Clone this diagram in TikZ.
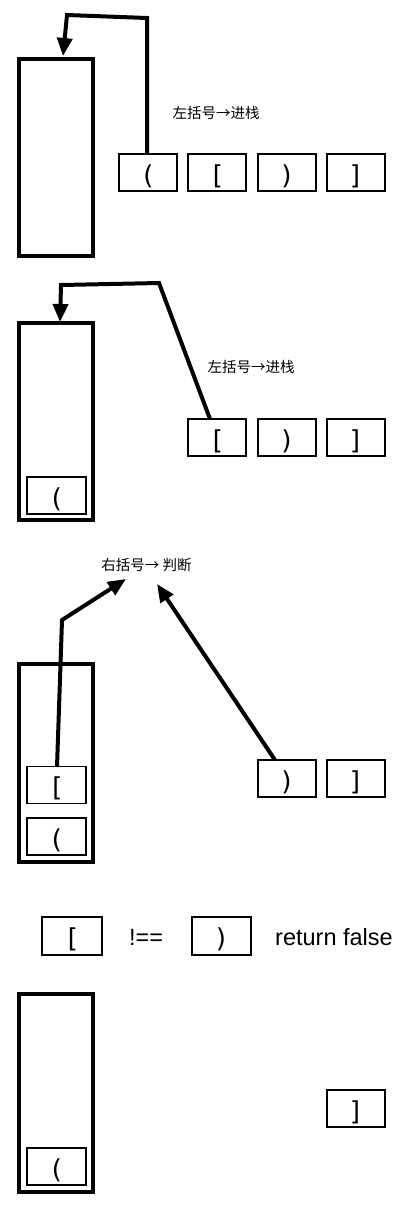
\documentclass[tikz,border=0pt]{standalone}
\usepackage{fontspec}
\setmainfont{Liberation Sans}
\newfontfamily\cjk{Noto Sans CJK SC}
\newfontfamily\monof{DejaVu Sans Mono}
\usetikzlibrary{arrows.meta}
\tikzset{
  px/.style={x=1pt,y=-1pt},
  stackbox/.style={draw,line width=4pt,minimum width=74pt,minimum height=197pt,inner sep=0pt},
  cellbox/.style={draw,line width=1.2pt,minimum width=58pt,minimum height=37pt,inner sep=0pt,
    font=\monof\fontsize{26}{26}\selectfont,text depth=0pt,anchor=center},
  flow/.style={line width=4pt,line join=miter,-{Triangle[length=18pt,width=15pt]}},
  cnlabel/.style={font=\cjk\fontsize{14.5}{14.5}\selectfont,inner sep=0pt},
  entext/.style={font=\fontsize{23.5}{23.5}\selectfont,inner sep=0pt}
}
\newcommand{\cellt}[1]{\raisebox{-4pt}{#1}}
\begin{document}
\begin{tikzpicture}[px]
\useasboundingbox (0,0) rectangle (411,1208);
% ---------- panel 1 ----------
\node[stackbox] (s1) at (56,157.5) {};
\node[cellbox] (p1a) at (148,172.5) {\cellt{(}};
\node[cellbox] (p1b) at (217,172.5) {\cellt{[}};
\node[cellbox] (p1c) at (287,172.5) {\cellt{)}};
\node[cellbox] (p1d) at (356,172.5) {\cellt{]}};
\node[cnlabel] (l1) at (216,113) {左括号→进栈};
\coordinate (a1s) at (147,154);
\coordinate (a1b) at (147,18);
\coordinate (a1c) at (67,15);
\coordinate (a1e) at (63,56);
\draw[flow] (a1s) -- (a1b) -- (a1c) -- (a1e);
% ---------- panel 2 ----------
\node[stackbox] (s2) at (56,421.5) {};
\node[cellbox,minimum width=59pt] (q2a) at (56.5,495.5) {\cellt{(}};
\node[cellbox] (p2b) at (217,437.5) {\cellt{[}};
\node[cellbox] (p2c) at (287,437.5) {\cellt{)}};
\node[cellbox] (p2d) at (356,437.5) {\cellt{]}};
\node[cnlabel] (l2) at (251,367) {左括号→进栈};
\coordinate (a2s) at (210,419);
\coordinate (a2b) at (159,283);
\coordinate (a2c) at (61,285);
\coordinate (a2e) at (60,322);
\draw[flow] (a2s) -- (a2b) -- (a2c) -- (a2e);
% ---------- panel 3 ----------
\node[cnlabel] (l3) at (146.5,565) {右括号→ 判断};
\node[stackbox,minimum height=198pt] (s3) at (56,763) {};
\node[cellbox,minimum width=59pt] (q3b) at (56.5,785) {\cellt{[}};
\node[cellbox,minimum width=59pt] (q3a) at (56.5,836.5) {\cellt{(}};
\node[cellbox] (p3c) at (287,778.5) {\cellt{)}};
\node[cellbox] (p3d) at (356,778.5) {\cellt{]}};
\coordinate (a3s) at (57,767);
\coordinate (a3b) at (62,620);
\coordinate (a3e) at (126,579);
\draw[flow] (a3s) -- (a3b) -- (a3e);
\coordinate (a4s) at (275,760);
\coordinate (a4e) at (157,584);
\draw[flow] (a4s) -- (a4e);
% ---------- panel 4 ----------
\node[cellbox,minimum width=60pt,minimum height=38pt] (c4a) at (72,936) {\cellt{[}};
\node[entext] (neq) at (146,937) {!==};
\node[cellbox,minimum width=59pt,minimum height=38pt] (c4b) at (221.5,936) {\cellt{)}};
\node[entext,anchor=west] (rf) at (275,937) {return false};
\node[stackbox,minimum height=198pt] (s4) at (56,1093) {};
\node[cellbox,minimum width=59pt] (q4a) at (56.5,1166.5) {\cellt{(}};
\node[cellbox] (p4d) at (356,1108.5) {\cellt{]}};
\end{tikzpicture}
\end{document}
